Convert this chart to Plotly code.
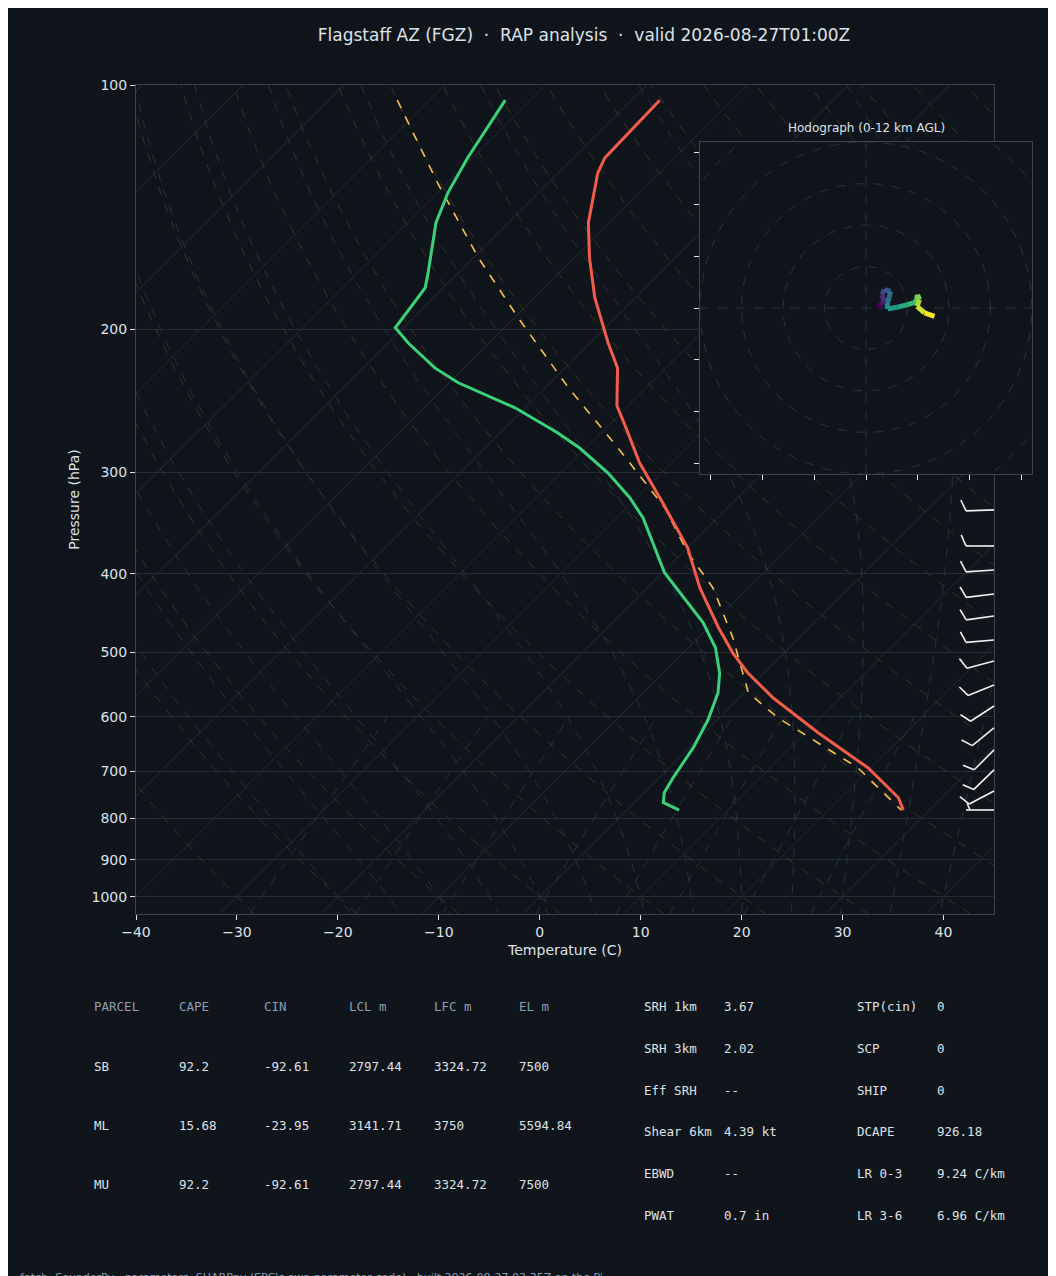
import numpy as np
import plotly.graph_objects as go
from plotly.colors import sample_colorscale

# ---- sounding data ----
t_pres = [104.4, 123, 128.4, 147.8, 163.3, 182.9, 207.9, 223.1, 248.4, 264.5, 292, 327.3,
          371.6, 416.4, 466.2, 500.6, 530, 569, 628, 693.5, 755, 782]
t_temp = [-67.2, -66.9, -66.1, -62.1, -58.5, -54.0, -48.2, -44.8, -41.1, -38.0, -33.2, -26.9,
          -20.0, -14.8, -9.0, -5.1, -1.6, 3.4, 11.3, 19.7, 25.7, 27.4]
td_pres = [104.4, 123, 135.7, 147.8, 170.4, 177.8, 199.1, 207.9, 223.1, 232.7, 249.8, 268.2, 280,
           300.6, 322.4, 341.3, 398.9, 422.3, 459.8, 493.6, 530, 560.5, 605.3, 655, 713.9, 744.5,
           765.6, 782]
td_temp = [-82.5, -80.5, -79.0, -77.2, -73.0, -71.8, -70.8, -68.0, -62.9, -59.1, -51.0, -44.3, -40.6,
           -35.3, -30.7, -27.4, -19.8, -16.3, -11.0, -7.3, -4.4, -2.6, -0.9, 0.4, 1.4, 2.0,
           2.9, 5.2]
parcel_pres = [104.4, 132, 163.3, 193.6, 236, 280, 331.9, 376.8, 416.4, 479.5, 560.5, 601.7, 693.5, 782]
parcel_temp = [-93.2, -81.0, -69.5, -59.6, -47.7, -36.8, -26.2, -19.5, -13.5, -6.6, 0.4, 5.8, 18.7, 27.2]

barb_pres = [333.7, 369.7, 395.7, 423.6, 450.9, 482.6, 512.2, 548.3, 582.0, 619.5, 659.3, 697.8, 740.6, 781.7]
barb_dir = [268, 270, 266, 263, 262, 265, 255, 248, 237, 231, 225, 226, 242, 270]
barb_spd = [10, 10, 10, 10, 10, 10, 10, 10, 10, 10, 10, 10, 10, 5]

hodo_u = [2.8, 3.5, 4.4, 3.8, 4.4, 5.9, 5.6, 5.1, 5.2, 7.6, 10.0, 12.0, 12.4, 12.9, 12.3, 14.1, 16.5]
hodo_v = [0.0, 0.8, 1.8, 3.2, 4.4, 4.0, 2.4, 1.2, -0.2, 0.2, 0.8, 1.4, 3.2, 2.0, 0.4, -1.2, -2.0]

table_head = ["PARCEL", "CAPE", "CIN", "LCL m", "LFC m", "EL m"]
table_rows = [["SB", "92.2", "-92.61", "2797.44", "3324.72", "7500"],
              ["ML", "15.68", "-23.95", "3141.71", "3750", "5594.84"],
              ["MU", "92.2", "-92.61", "2797.44", "3324.72", "7500"]]
params_mid = [("SRH 1km", "3.67"), ("SRH 3km", "2.02"), ("Eff SRH", "--"),
              ("Shear 6km", "4.39 kt"), ("EBWD", "--"), ("PWAT", "0.7 in")]
params_right = [("STP(cin)", "0"), ("SCP", "0"), ("SHIP", "0"),
                ("DCAPE", "926.18"), ("LR 0-3", "9.24 C/km"), ("LR 3-6", "6.96 C/km")]

BG = "#10151b"
FG = "#dde2e8"
GRID = "#262d36"
SKEW = 35.0
W, H = 1056, 1276
# plot area in pixels
L_PX, R_PX, T_PX, B_PX = 128, 1024, 77, 906
PW, PH = R_PX - L_PX, B_PX - T_PX


def px2paper(x, y):
    return (x - L_PX) / PW, (B_PX - y) / PH


def skew(temp, pres):
    return np.asarray(temp, float) + SKEW * np.log(1000.0 / np.asarray(pres, float))


fig = go.Figure()

# background lines
pp = np.geomspace(1050, 100, 60)
for t0 in range(-120, 50, 10):
    fig.add_trace(go.Scatter(x=skew([t0, t0], [1050, 100]), y=[1050, 100], mode="lines",
                             line=dict(color="#252c35", width=1), hoverinfo="skip", showlegend=False))
for th in range(-30, 220, 10):
    tk = (th + 273.15) * (pp / 1000.0) ** 0.2857 - 273.15
    fig.add_trace(go.Scatter(x=skew(tk, pp), y=pp, mode="lines",
                             line=dict(color="#3b3327", width=1, dash="dash"), hoverinfo="skip", showlegend=False))


def esat(t):
    return 6.112 * np.exp(17.67 * t / (t + 243.5))


def moist(t0):
    out = {}
    for direction in (1, -1):
        t = t0
        p = 1000.0
        seq = []
        while 100 <= p <= 1050:
            seq.append((p, t))
            tk = t + 273.15
            rs = 0.622 * esat(t) / (p - esat(t))
            dtdp = (287.0 * tk + 2.5e6 * rs) / (1004.0 + 2.5e6 ** 2 * rs * 0.622 / (287.0 * tk ** 2)) / p
            dp = -5.0 * direction
            t += dtdp * dp
            p += dp
        for p_, t_ in seq:
            out[p_] = t_
    ks = sorted(out)
    return np.array(ks), np.array([out[k] for k in ks])


for t0 in range(-20, 45, 5):
    mp, mt = moist(float(t0))
    fig.add_trace(go.Scatter(x=skew(mt, mp), y=mp, mode="lines",
                             line=dict(color="#24343f", width=1, dash="dash"), hoverinfo="skip", showlegend=False))

pm = np.geomspace(1050, 600, 20)
for w in [0.4, 1, 2, 4, 7, 10, 16, 24]:
    e = w / 1000.0 * pm / (0.622 + w / 1000.0)
    lt = np.log(e / 6.112)
    td = 243.5 * lt / (17.67 - lt)
    fig.add_trace(go.Scatter(x=skew(td, pm), y=pm, mode="lines",
                             line=dict(color="#23343c", width=1, dash="dash"), hoverinfo="skip", showlegend=False))

# profiles
fig.add_trace(go.Scatter(x=skew(parcel_temp, parcel_pres), y=parcel_pres, mode="lines",
                         line=dict(color="#f2c14e", width=1.6, dash="dash"), showlegend=False))
fig.add_trace(go.Scatter(x=skew(td_temp, td_pres), y=td_pres, mode="lines",
                         line=dict(color="#3ad17a", width=3), showlegend=False))
fig.add_trace(go.Scatter(x=skew(t_temp, t_pres), y=t_pres, mode="lines",
                         line=dict(color="#f25c4a", width=3), showlegend=False))

# hodograph inset
hx = dict(xaxis="x2", yaxis="y2", hoverinfo="skip", showlegend=False)
fig.add_trace(go.Scatter(x=[-40, 40, 40, -40, -40], y=[-40, -40, 40, 40, -40], mode="lines", fill="toself",
                         fillcolor=BG, line=dict(width=0), **hx))
ang = np.linspace(0, 2 * np.pi, 181)
for r in [10, 20, 30, 40, 50]:
    fig.add_trace(go.Scatter(x=r * np.cos(ang), y=r * np.sin(ang), mode="lines",
                             line=dict(color="#2b333d", width=1, dash="dash"), **hx))
fig.add_trace(go.Scatter(x=[-40, 40], y=[0, 0], mode="lines", line=dict(color="#2b333d", width=1, dash="dash"), **hx))
fig.add_trace(go.Scatter(x=[0, 0], y=[-40, 40], mode="lines", line=dict(color="#2b333d", width=1, dash="dash"), **hx))
cols = sample_colorscale("Viridis", list(np.linspace(0, 1, len(hodo_u) - 1)))
for i in range(len(hodo_u) - 1):
    fig.add_trace(go.Scatter(x=hodo_u[i:i + 2], y=hodo_v[i:i + 2], mode="lines",
                             line=dict(color=cols[i], width=5), **hx))

# wind barbs (shapes in paper coordinates)
lp_top, lp_bot = np.log(100), np.log(1050)
segs = []
for p, d, s in zip(barb_pres, barb_dir, barb_spd):
    py = T_PX + (np.log(p) - lp_top) / (lp_bot - lp_top) * PH
    px = 986
    th = np.radians(d)
    dx, dy = np.sin(th), -np.cos(th)  # y down in pixels
    perp = (-dy, dx)
    tx, ty = px + 28 * dx, py + 28 * dy
    segs.append((px, py, tx, ty))
    if s >= 10:
        bl, bx, by = 12, tx, ty
    else:
        bl, bx, by = 7, tx - 4 * dx, ty - 4 * dy
    ex = bx + bl * (0.92 * perp[0] + 0.4 * dx)
    ey = by + bl * (0.92 * perp[1] + 0.4 * dy)
    segs.append((bx, by, ex, ey))
for x0, y0, x1, y1 in segs:
    a0, b0 = px2paper(x0, y0)
    a1, b1 = px2paper(x1, y1)
    fig.add_shape(type="line", xref="paper", yref="paper", x0=a0, x1=a1, y0=b0, y1=b1,
                  line=dict(color="#f0f0f0", width=1.6))


def note(text, x, y, size=12.5, color=FG, family=None, anchor="left"):
    ax, ay = px2paper(x, y)
    f = dict(size=size, color=color)
    if family:
        f["family"] = family
    fig.add_annotation(text=text, x=ax, y=ay, xref="paper", yref="paper", font=f,
                       xanchor=anchor, yanchor="middle", showarrow=False)


note("Hodograph (0-12 km AGL)", 858, 120, size=12, anchor="center")
mono = "DejaVu Sans Mono"
colx = [84, 169, 254, 339, 424, 509]
for cx, h in zip(colx, table_head):
    note(h, cx, 999, color="#8d9db2", family=mono)
for ri, row in enumerate(table_rows):
    for cx, v in zip(colx, row):
        note(v, cx, 1058 + 59 * ri, family=mono)
for block, (xa, xb) in [(params_mid, (634, 714)), (params_right, (847, 927))]:
    for i, (k, v) in enumerate(block):
        note(k, xa, 999 + 41.6 * i, family=mono)
        note(v, xb, 999 + 41.6 * i, family=mono)
note("fetch: SounderPy · parameters: SHARPpy (SPC's own parameter code) · built 2026-08-27 02:35Z on the Pi",
     10, 1269, size=11, color="#8d9db2")

axis_line = "#3a4350"
main_right = (986 - L_PX) / PW
hx0, hy0 = px2paper(692, 466)
hx1, hy1 = px2paper(1024, 134)
fig.update_layout(
    width=W, height=H, margin=dict(l=L_PX, r=W - R_PX, t=T_PX, b=H - B_PX, autoexpand=False),
    paper_bgcolor=BG, plot_bgcolor=BG,
    font=dict(family="DejaVu Sans", color=FG),
    showlegend=False,
    title=dict(text="Flagstaff AZ (FGZ)  ·  RAP analysis  ·  valid 2026-08-27T01:00Z",
               x=0.5, xref="paper", y=1 - 27 / H, yref="container", xanchor="center", yanchor="middle",
               font=dict(size=17, color=FG)),
    xaxis=dict(domain=[0, main_right], range=[-40, 45], dtick=10, showgrid=False, zeroline=False,
               ticks="outside", ticklen=5, tickcolor=FG, tickfont=dict(size=14, color=FG),
               showline=True, linecolor=axis_line, mirror=True, anchor="y", automargin=False,
               title=dict(text="Temperature (C)", font=dict(size=14, color=FG), standoff=6)),
    yaxis=dict(domain=[0, 1], type="log", range=[np.log10(1050), 2],
               tickvals=[100, 200, 300, 400, 500, 600, 700, 800, 900, 1000],
               ticktext=["100", "200", "300", "400", "500", "600", "700", "800", "900", "1000"],
               showgrid=True, gridcolor=GRID, zeroline=False, ticks="outside", ticklen=5, tickcolor=FG,
               tickfont=dict(size=14, color=FG), showline=True, linecolor=axis_line, mirror=True, anchor="x",
               automargin=False, title=dict(text="Pressure (hPa)", font=dict(size=14, color=FG), standoff=8)),
    xaxis2=dict(domain=[hx0, hx1], range=[-40, 40], tickvals=[-37.5, -25, -12.5, 0, 12.5, 25, 37.5],
                showticklabels=False, ticks="outside", ticklen=5, tickcolor=FG, showgrid=False, zeroline=False,
                showline=True, linecolor=axis_line, mirror=True, anchor="y2", automargin=False),
    yaxis2=dict(domain=[hy0, hy1], range=[-40, 40], tickvals=[-37.5, -25, -12.5, 0, 12.5, 25, 37.5],
                showticklabels=False, ticks="outside", ticklen=5, tickcolor=FG, showgrid=False, zeroline=False,
                showline=True, linecolor=axis_line, mirror=True, anchor="x2", automargin=False),
)

fig.write_html("out.html")
